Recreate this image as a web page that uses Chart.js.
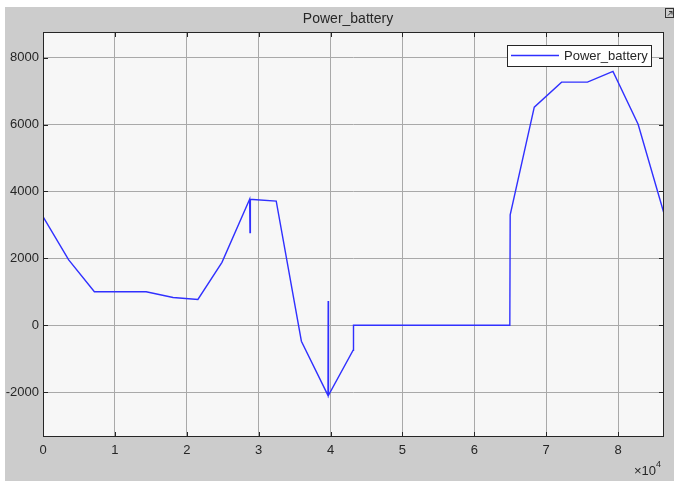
<!DOCTYPE html>
<html>
<head>
<meta charset="utf-8">
<script src="https://cdn.jsdelivr.net/npm/chart.js@4/dist/chart.umd.min.js"></script>
<style>
  html, body { margin: 0; padding: 0; background: #ffffff; }
  #wrap { width: 674px; height: 481px; }
</style>
</head>
<body>
<div id="wrap"><canvas id="c" width="674" height="481"></canvas></div>
<script>
// Battery power over one day (time in seconds, power in W)
const timeSec = [0, 3550, 7150, 14350, 18100, 21550, 24900, 28750, 28800, 28850, 29200, 32450,
                 35950, 39650, 39680, 39720, 43150, 43200, 64950, 65000, 68350, 72150, 75750,
                 79300, 82800, 86400];
const powerBattery = [3250, 1960, 1000, 1000, 830, 770, 1880, 3770, 2770, 3760, 3760, 3710,
                      -480, -2100, 720, -2100, -750, 0, 0, 3300, 6520, 7270, 7270,
                      7590, 6010, 3340];

const xTickValues = [0, 10000, 20000, 30000, 40000, 50000, 60000, 70000, 80000];
const yTickValues = [-2000, 0, 2000, 4000, 6000, 8000];
const xRange = [0, 86400];
const yRange = [-3345, 8770];
const seriesName = 'Power_battery';
const titleText = 'Power_battery';

const FONT = '"Liberation Sans", Arial, Helvetica, sans-serif';
const TEXT = '#262626';
const LINE = '#3030ff';

const points = timeSec.map((t, i) => ({ x: t, y: powerBattery[i] }));

const scopeFrame = {
  id: 'scopeFrame',
  beforeDraw(chart) {
    const { ctx, chartArea: a, width, height } = chart;
    ctx.save();
    ctx.fillStyle = '#ffffff';
    ctx.fillRect(0, 0, width, height);
    ctx.fillStyle = '#cccccc';
    ctx.fillRect(5, 7, width - 5, height - 7);
    ctx.fillStyle = '#f7f7f7';
    ctx.fillRect(a.left, a.top, a.right - a.left, a.bottom - a.top);
    ctx.restore();
  },
  afterDraw(chart) {
    const { ctx, chartArea: a, scales } = chart;
    ctx.save();
    // axes box
    ctx.strokeStyle = '#262626';
    ctx.lineWidth = 1;
    ctx.strokeRect(Math.round(a.left) + 0.5, Math.round(a.top) + 0.5,
                   Math.round(a.right - a.left) - 1, Math.round(a.bottom - a.top) - 1);
    // inward tick marks on all four sides
    const tl = 5;
    ctx.beginPath();
    xTickValues.forEach(v => {
      const x = Math.round(scales.x.getPixelForValue(v)) + 0.5;
      ctx.moveTo(x, a.bottom); ctx.lineTo(x, a.bottom - tl);
      ctx.moveTo(x, a.top); ctx.lineTo(x, a.top + tl);
    });
    yTickValues.forEach(v => {
      const y = Math.round(scales.y.getPixelForValue(v)) + 0.5;
      ctx.moveTo(a.left, y); ctx.lineTo(a.left + tl, y);
      ctx.moveTo(a.right, y); ctx.lineTo(a.right - tl, y);
    });
    ctx.stroke();

    // title
    ctx.fillStyle = TEXT;
    ctx.font = '14px ' + FONT;
    ctx.textAlign = 'center';
    ctx.textBaseline = 'middle';
    ctx.fillText(titleText, 348, 19);

    // exponent label
    ctx.font = '13px ' + FONT;
    ctx.textAlign = 'left';
    ctx.textBaseline = 'alphabetic';
    ctx.fillText('\u00d710', 634, 475);
    ctx.font = '9px ' + FONT;
    ctx.fillText('4', 656, 467);

    // legend
    const lx = 507, ly = 45, lw = 144, lh = 21;
    ctx.fillStyle = '#ffffff';
    ctx.fillRect(lx, ly, lw, lh);
    ctx.strokeStyle = '#262626';
    ctx.strokeRect(lx + 0.5, ly + 0.5, lw, lh);
    ctx.strokeStyle = LINE;
    ctx.lineWidth = 1.4;
    ctx.beginPath();
    ctx.moveTo(511, 55.5); ctx.lineTo(559, 55.5);
    ctx.stroke();
    ctx.fillStyle = TEXT;
    ctx.font = '13px ' + FONT;
    ctx.textBaseline = 'middle';
    ctx.fillText(seriesName, 564, 56);

    // undock icon
    ctx.strokeStyle = '#333333';
    ctx.lineWidth = 1;
    ctx.strokeRect(665.5, 8.5, 8, 9);
    ctx.beginPath();
    ctx.moveTo(668, 15.5); ctx.lineTo(672, 11.5);
    ctx.moveTo(669, 11.5); ctx.lineTo(672, 11.5); ctx.lineTo(672, 14.5);
    ctx.stroke();
    ctx.restore();
  }
};

new Chart(document.getElementById('c'), {
  type: 'line',
  data: {
    datasets: [{
      label: seriesName,
      data: points,
      borderColor: LINE,
      borderWidth: 1.4,
      pointRadius: 0,
      tension: 0,
      fill: false
    }]
  },
  options: {
    responsive: false,
    animation: false,
    devicePixelRatio: 1,
    layout: { padding: { top: 32, right: 10, left: 0, bottom: 0 } },
    plugins: { legend: { display: false }, title: { display: false }, tooltip: { enabled: false } },
    scales: {
      x: {
        type: 'linear',
        min: xRange[0], max: xRange[1],
        afterFit: s => { s.height = 44; },
        afterBuildTicks: s => { s.ticks = xTickValues.map(v => ({ value: v })); },
        grid: { color: '#a9a9a9', lineWidth: 1, drawTicks: false },
        border: { display: false },
        ticks: {
          padding: 6,
          maxRotation: 0,
          color: TEXT,
          font: { family: FONT, size: 13 },
          callback: v => String(v / 10000)
        }
      },
      y: {
        type: 'linear',
        min: yRange[0], max: yRange[1],
        afterFit: s => { s.width = 43; },
        afterBuildTicks: s => { s.ticks = yTickValues.map(v => ({ value: v })); },
        grid: { color: '#a9a9a9', lineWidth: 1, drawTicks: false },
        border: { display: false },
        ticks: {
          padding: 4,
          color: TEXT,
          font: { family: FONT, size: 13 },
          callback: v => String(v)
        }
      }
    }
  },
  plugins: [scopeFrame]
});
</script>
</body>
</html>
